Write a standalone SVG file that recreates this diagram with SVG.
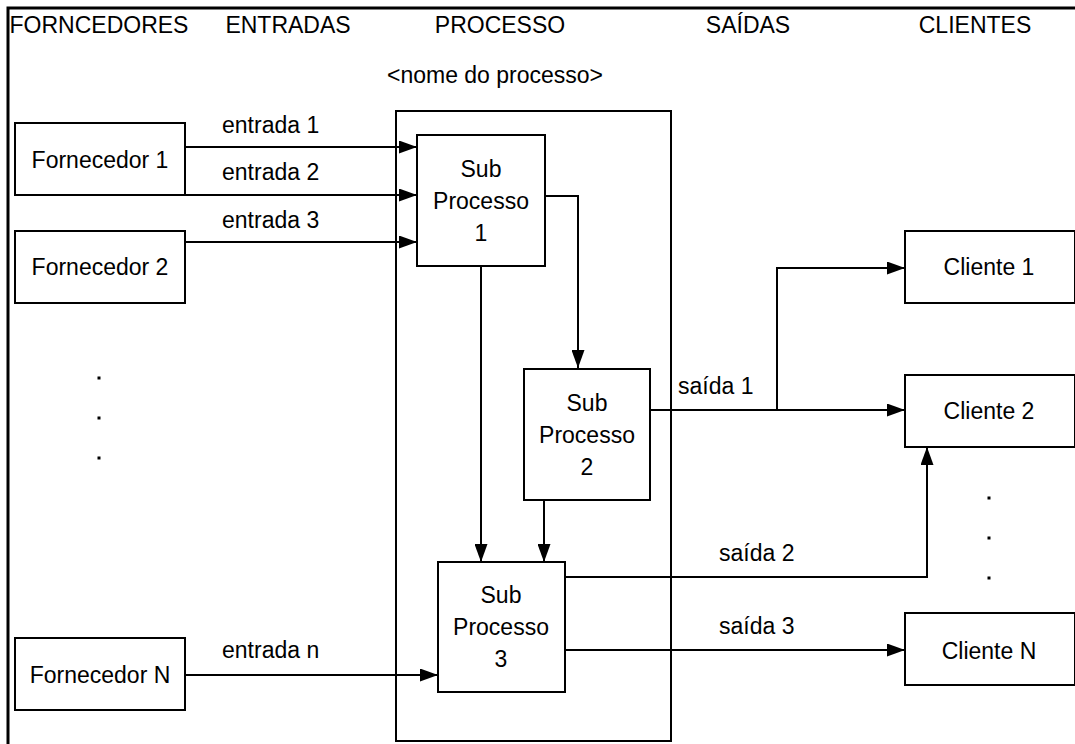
<svg xmlns="http://www.w3.org/2000/svg" width="1075" height="744" viewBox="0 0 1075 744">
<style>
  text { font-family: "Liberation Sans", Arial, sans-serif; font-size: 23px; fill: #000; }
  .c { text-anchor: middle; }
  .box { fill: #fff; stroke: #000; stroke-width: 2; }
  .ln { fill: none; stroke: #000; stroke-width: 2; }
  .arr { marker-end: url(#ah); }
  .dot { fill: #000; }
</style>
<defs>
  <marker id="ah" markerUnits="userSpaceOnUse" markerWidth="19" markerHeight="13" refX="18" refY="6.5" orient="auto">
    <path d="M0,0 L18,6.5 L0,13 z" fill="#000"/>
  </marker>
</defs>
<rect x="0" y="0" width="1075" height="744" fill="#fff"/>
<path d="M8,744 V8 H1075" fill="none" stroke="#000" stroke-width="3"/>

<g id="headers">
  <text class="c" x="99" y="33">FORNCEDORES</text>
  <text class="c" x="288" y="33">ENTRADAS</text>
  <text class="c" x="500" y="33">PROCESSO</text>
  <text class="c" x="748" y="33">SAÍDAS</text>
  <text class="c" x="975" y="33">CLIENTES</text>
  <text class="c" x="495" y="83">&lt;nome do processo&gt;</text>
</g>

<g id="processo">
  <rect class="box" x="396" y="111" width="275" height="630"/>
</g>

<g id="connectors">
  <path class="ln arr" d="M185,147 H417"/>
  <path class="ln arr" d="M185,195 H417"/>
  <path class="ln arr" d="M185,242 H417"/>
  <path class="ln arr" d="M185,675 H438"/>
  <path class="ln arr" d="M545,196 H578 V368"/>
  <path class="ln arr" d="M481,266 V562"/>
  <path class="ln arr" d="M544,500 V562"/>
  <path class="ln arr" d="M650,410 H905"/>
  <path class="ln arr" d="M777,410 V268 H905"/>
  <path class="ln arr" d="M565,577 H927 V447"/>
  <path class="ln arr" d="M565,650 H905"/>
</g>

<g id="labels">
  <text x="222" y="133">entrada 1</text>
  <text x="222" y="180">entrada 2</text>
  <text x="222" y="228">entrada 3</text>
  <text x="222" y="658">entrada n</text>
  <text x="678" y="394">saída 1</text>
  <text x="719" y="561">saída 2</text>
  <text x="719" y="634">saída 3</text>
</g>

<g id="fornecedor1">
  <rect class="box" x="15" y="123" width="170" height="72"/>
  <text class="c" x="100" y="168">Fornecedor 1</text>
</g>
<g id="fornecedor2">
  <rect class="box" x="15" y="231" width="170" height="72"/>
  <text class="c" x="100" y="275">Fornecedor 2</text>
</g>
<g id="fornecedorN">
  <rect class="box" x="15" y="638" width="170" height="72"/>
  <text class="c" x="100" y="683">Fornecedor N</text>
</g>

<g id="dots-left">
  <rect class="dot" x="97.5" y="376.5" width="3" height="3"/>
  <rect class="dot" x="97.5" y="416.5" width="3" height="3"/>
  <rect class="dot" x="97.5" y="456.5" width="3" height="3"/>
</g>
<g id="dots-right">
  <rect class="dot" x="987.5" y="496.5" width="3" height="3"/>
  <rect class="dot" x="987.5" y="536.5" width="3" height="3"/>
  <rect class="dot" x="987.5" y="576.5" width="3" height="3"/>
</g>

<g id="subprocesso1">
  <rect class="box" x="417" y="135" width="128" height="131"/>
  <text class="c" x="481" y="177">Sub</text>
  <text class="c" x="481" y="209">Processo</text>
  <text class="c" x="481" y="241">1</text>
</g>
<g id="subprocesso2">
  <rect class="box" x="524" y="369" width="126" height="131"/>
  <text class="c" x="587" y="411">Sub</text>
  <text class="c" x="587" y="443">Processo</text>
  <text class="c" x="587" y="475">2</text>
</g>
<g id="subprocesso3">
  <rect class="box" x="438" y="562" width="127" height="130"/>
  <text class="c" x="501" y="603">Sub</text>
  <text class="c" x="501" y="635">Processo</text>
  <text class="c" x="501" y="667">3</text>
</g>

<g id="cliente1">
  <rect class="box" x="905" y="231" width="170" height="72"/>
  <text class="c" x="989" y="275">Cliente 1</text>
</g>
<g id="cliente2">
  <rect class="box" x="905" y="375" width="170" height="72"/>
  <text class="c" x="989" y="419">Cliente 2</text>
</g>
<g id="clienteN">
  <rect class="box" x="905" y="613" width="170" height="72"/>
  <text class="c" x="989" y="659">Cliente N</text>
</g>
</svg>
